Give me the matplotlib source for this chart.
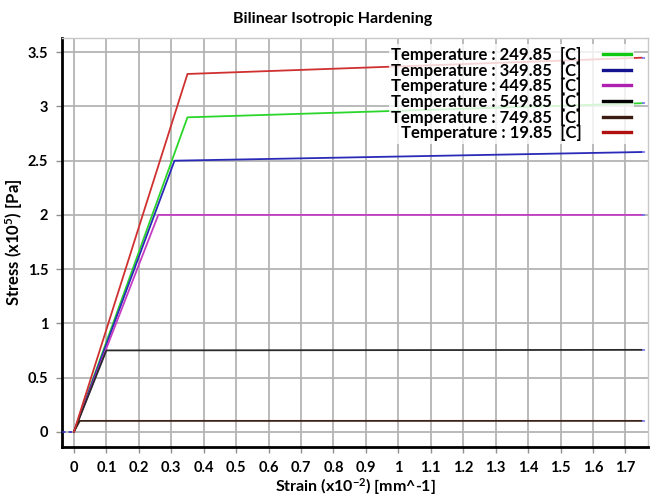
import numpy as np
import matplotlib
matplotlib.use("Agg")
import matplotlib.pyplot as plt

# ── material curves (strain in 1e-2 mm^-1, stress in 1e5 Pa) ───────────────
temperatures = ["249.85", "349.85", "449.85", "549.85", "749.85", "19.85"]
yield_strain = [0.35, 0.31, 0.26, 0.10, 0.018, 0.35]
yield_stress = [2.90, 2.50, 2.00, 0.75, 0.10, 3.30]
end_strain = [1.75, 1.75, 1.75, 1.75, 1.75, 1.75]
end_stress = [3.03, 2.58, 2.00, 0.755, 0.10, 3.45]

line_colors = ["#2ad62a", "#2a2ab8", "#c43cc4", "#2a2a2a", "#3a2418", "#d03030"]
legend_colors = ["#10c810", "#141490", "#b020b0", "#000000", "#3a1c10", "#b01010"]

x_ticks = np.round(np.arange(0, 1.71, 0.1), 1)
x_labels = ["0" if t == 0 else ("1" if t == 1 else f"{t:g}") for t in x_ticks]
y_ticks = [0, 0.5, 1, 1.5, 2, 2.5, 3, 3.5]
y_labels = ["0", "0.5", "1", "1.5", "2", "2.5", "3", "3.5"]

plt.rcParams["font.family"] = ["Lato", "DejaVu Sans"]
plt.rcParams["font.weight"] = "bold"
plt.rcParams["mathtext.default"] = "regular"

fig = plt.figure(figsize=(6.52, 4.96), dpi=100)
ax = fig.add_axes([0.095, 0.099, 0.899, 0.824])

x_min, x_max = -0.037, 1.77
ax.set_xlim(x_min, x_max)
ax.set_ylim(-0.14, 3.63)

# grid and frame
ax.set_xticks(x_ticks)
ax.set_yticks(y_ticks)
ax.grid(True, color="#b4b4b4", lw=1.3)
ax.set_axisbelow(True)
for side in ("left", "bottom"):
    ax.spines[side].set_color("black")
    ax.spines[side].set_linewidth(2.0)
for side in ("top", "right"):
    ax.spines[side].set_color("#c8c8c8")
    ax.spines[side].set_linewidth(1.0)

ax.set_xticklabels(x_labels, fontsize=10.5, fontweight="bold")
ax.set_yticklabels(y_labels, fontsize=10.5, fontweight="bold")
ax.tick_params(axis="both", length=4, width=1, color="#909090", pad=6)

# bilinear curves
handles = []
for i, temp in enumerate(temperatures):
    xs = [0.0, yield_strain[i], end_strain[i]]
    ys = [0.0, yield_stress[i], end_stress[i]]
    ax.plot(xs, ys, color=line_colors[i], lw=1.3, zorder=3)
    # small dashed extension past the last point
    ax.plot([end_strain[i], x_max], [end_stress[i], end_stress[i]],
            color="#6a6af0", lw=1.1, ls=(0, (2, 2)), zorder=3)
    h, = ax.plot([], [], color=legend_colors[i], lw=2.4)
    handles.append((h, f"Temperature : {temp}  [C]"))

ax.plot([x_min, 0], [0, 0], color="#3030c0", lw=1.2, ls=(0, (2, 2)), zorder=3)

leg = ax.legend([h for h, _ in handles], [l for _, l in handles],
                loc="upper right", bbox_to_anchor=(0.99, 1.005),
                markerfirst=False, frameon=True, fancybox=False,
                framealpha=0.8, edgecolor="none", facecolor="white",
                labelspacing=-0.02, handlelength=1.7,
                handletextpad=1.3, borderpad=0.15,
                prop={"weight": "bold", "size": 12})
leg.set_zorder(4)

fig.text(0.51, 0.962, "Bilinear Isotropic Hardening", ha="center",
         va="center", fontsize=11.5, fontweight="bold")
ax.set_xlabel("Strain (x10$^{-2}$) [mm^-1]", fontsize=11.5,
              fontweight="bold", labelpad=1)
ax.set_ylabel("Stress (x10$^{5}$) [Pa]", fontsize=12,
              fontweight="bold", labelpad=2)

fig.savefig("out.png", dpi=100)
